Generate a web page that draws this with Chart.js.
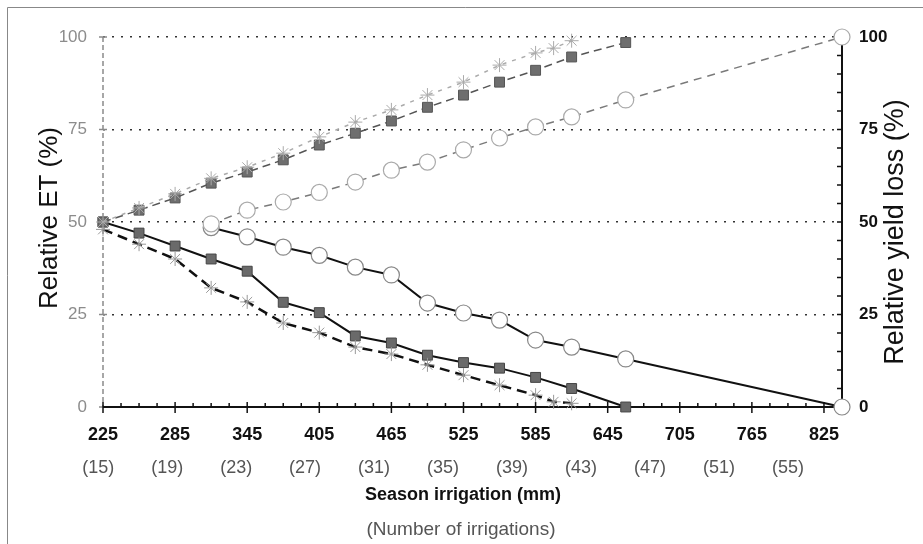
<!DOCTYPE html>
<html>
<head>
<meta charset="utf-8">
<script src="https://cdn.jsdelivr.net/npm/chart.js@4.4.1/dist/chart.umd.min.js"></script>
<style>
  html, body { margin: 0; padding: 0; background: #fff; }
  #wrap { width: 923px; height: 544px; }
</style>
</head>
<body>
<div id="wrap"><canvas id="chart" width="923" height="544"></canvas></div>
<script>
// x axis: season irrigation (mm)
const xTicks = [225, 285, 345, 405, 465, 525, 585, 645, 705, 765, 825];
const yTicks = [0, 25, 50, 75, 100];
const irrigationCounts = ['(15)', '(19)', '(23)', '(27)', '(31)', '(35)', '(39)', '(43)', '(47)', '(51)', '(55)'];

// square series
const squareMm = [225, 255, 285, 315, 345, 375, 405, 435, 465, 495, 525, 555, 585, 615, 660];
const etSquare = [50, 53.2, 56.5, 60.5, 63.5, 66.8, 70.8, 74, 77.3, 81, 84.3, 87.8, 91, 94.6, 98.5];
const lossSquare = [50, 47, 43.5, 40, 36.7, 28.3, 25.5, 19.2, 17.3, 14, 12, 10.5, 8, 5, 0];

// asterisk series
const starMm = [225, 255, 285, 315, 345, 375, 405, 435, 465, 495, 525, 555, 585, 600, 615];
const etStar = [50, 53.8, 57.6, 61.8, 64.8, 68.6, 73, 77, 80.3, 84.3, 87.8, 92.4, 95.7, 97, 99];
const lossStar = [48, 44, 40, 32.2, 28.4, 22.7, 20.1, 16.2, 14.3, 11.4, 8.6, 5.9, 3.2, 1.4, 1];

// circle series
const circleMm = [315, 345, 375, 405, 435, 465, 495, 525, 555, 585, 615, 660, 840];
const etCircle = [49.5, 53.2, 55.4, 58, 60.8, 64, 66.2, 69.5, 72.7, 75.7, 78.4, 83, 100];
const lossCircle = [48.5, 46, 43.2, 41, 37.8, 35.7, 28.1, 25.4, 23.5, 18.1, 16.2, 13, 0];

const FONT = 'Liberation Sans, Arial, sans-serif';

function pts(xs, ys) {
    return xs.map((x, i) => ({ x: x, y: ys[i] }));
}

const axesPlugin = {
    id: 'axesPlugin',
    beforeDatasetsDraw(chart) {
        const ctx = chart.ctx;
        const { left, right, top, bottom } = chart.chartArea;
        const xs = chart.scales.x;
        const ys = chart.scales.y;
        ctx.save();

        // frame
        ctx.strokeStyle = '#888';
        ctx.lineWidth = 1;
        ctx.beginPath();
        ctx.moveTo(7.5, 544);
        ctx.lineTo(7.5, 7.5);
        ctx.lineTo(923, 7.5);
        ctx.stroke();

        // left axis, dashed gray
        ctx.strokeStyle = '#8a8a8a';
        ctx.lineWidth = 1.5;
        ctx.setLineDash([5, 3]);
        ctx.beginPath();
        ctx.moveTo(left, top);
        ctx.lineTo(left, bottom);
        ctx.stroke();
        ctx.setLineDash([]);
        yTicks.forEach(v => {
            const y = ys.getPixelForValue(v);
            ctx.beginPath();
            ctx.moveTo(left - 4, y);
            ctx.lineTo(left + 4, y);
            ctx.stroke();
        });

        // right axis
        ctx.strokeStyle = '#111';
        ctx.lineWidth = 2;
        ctx.beginPath();
        ctx.moveTo(right, top + 8);
        ctx.lineTo(right, bottom);
        ctx.stroke();
        ctx.lineWidth = 1.5;
        for (let v = 5; v < 100; v += 5) {
            const y = ys.getPixelForValue(v);
            ctx.beginPath();
            ctx.moveTo(right - 5, y);
            ctx.lineTo(right + 1, y);
            ctx.stroke();
        }

        // x axis
        ctx.lineWidth = 2;
        ctx.beginPath();
        ctx.moveTo(left, bottom);
        ctx.lineTo(right, bottom);
        ctx.stroke();
        ctx.lineWidth = 1.5;
        for (let v = 225; v <= 840; v += 15) {
            const x = xs.getPixelForValue(v);
            const major = xTicks.includes(v);
            ctx.beginPath();
            ctx.moveTo(x, bottom - (major ? 5 : 4));
            ctx.lineTo(x, bottom + (major ? 6 : 0));
            ctx.stroke();
        }
        ctx.restore();
    },
    afterDraw(chart) {
        const ctx = chart.ctx;
        const xs = chart.scales.x;
        ctx.save();

        // number of irrigations row
        ctx.fillStyle = '#555';
        ctx.font = '18px ' + FONT;
        ctx.textAlign = 'center';
        ctx.textBaseline = 'middle';
        irrigationCounts.forEach((lab, i) => {
            ctx.fillText(lab, xs.getPixelForValue(221 + i * 57.4), 468);
        });

        ctx.fillStyle = '#111';
        ctx.font = 'bold 18px ' + FONT;
        ctx.fillText('Season irrigation (mm)', 463, 495);
        ctx.fillStyle = '#555';
        ctx.font = '19px ' + FONT;
        ctx.fillText('(Number of irrigations)', 461, 530);

        // axis titles
        ctx.fillStyle = '#111';
        ctx.textBaseline = 'alphabetic';
        ctx.font = '26px ' + FONT;
        ctx.save();
        ctx.translate(57, 218);
        ctx.rotate(-Math.PI / 2);
        ctx.fillText('Relative ET (%)', 0, 0);
        ctx.restore();

        ctx.font = '27px ' + FONT;
        ctx.save();
        ctx.translate(903, 232);
        ctx.rotate(-Math.PI / 2);
        ctx.fillText('Relative yield loss (%)', 0, 0);
        ctx.restore();

        ctx.restore();
    }
};

new Chart(document.getElementById('chart'), {
    type: 'line',
    data: {
        datasets: [
            {
                label: 'ET circles',
                data: pts(circleMm, etCircle),
                borderColor: '#7a7a7a',
                borderWidth: 1.5,
                borderDash: [8, 6],
                pointStyle: 'circle',
                pointRadius: 8,
                pointBackgroundColor: '#fff',
                pointBorderColor: '#aaa',
                pointBorderWidth: 1.2,
            },
            {
                label: 'ET asterisks',
                data: pts(starMm, etStar),
                borderColor: '#aaa',
                borderWidth: 1.5,
                borderDash: [4, 6],
                pointStyle: 'star',
                pointRadius: 7,
                pointBorderColor: '#aaa',
                pointBorderWidth: 1,
            },
            {
                label: 'ET squares',
                data: pts(squareMm, etSquare),
                borderColor: '#555',
                borderWidth: 1.5,
                borderDash: [8, 5],
                pointStyle: 'rect',
                pointRadius: 7,
                pointBackgroundColor: '#6e6e6e',
                pointBorderColor: '#555',
                pointBorderWidth: 1,
            },
            {
                label: 'Loss asterisks',
                data: pts(starMm, lossStar),
                borderColor: '#111',
                borderWidth: 2.5,
                borderDash: [10, 6],
                pointStyle: 'star',
                pointRadius: 7,
                pointBorderColor: '#999',
                pointBorderWidth: 1,
            },
            {
                label: 'Loss squares',
                data: pts(squareMm, lossSquare),
                borderColor: '#111',
                borderWidth: 2,
                pointStyle: 'rect',
                pointRadius: 7,
                pointBackgroundColor: '#6a6a6a',
                pointBorderColor: '#444',
                pointBorderWidth: 1,
            },
            {
                label: 'Loss circles',
                data: pts(circleMm, lossCircle),
                borderColor: '#111',
                borderWidth: 2,
                pointStyle: 'circle',
                pointRadius: 8,
                pointBackgroundColor: '#fff',
                pointBorderColor: '#888',
                pointBorderWidth: 1.2,
            },
        ].map(d => Object.assign({ fill: false, tension: 0, clip: false, pointHoverRadius: d.pointRadius }, d))
    },
    options: {
        responsive: false,
        animation: false,
        devicePixelRatio: 1,
        layout: { padding: { top: 37, left: 0, right: 0, bottom: 0 } },
        plugins: {
            legend: { display: false },
            tooltip: { enabled: false },
        },
        scales: {
            x: {
                type: 'linear',
                min: 225,
                max: 840,
                afterBuildTicks: s => { s.ticks = xTicks.map(v => ({ value: v })); },
                afterFit: s => { s.height = 137; },
                grid: { display: false, drawTicks: false },
                border: { display: false },
                ticks: {
                    color: '#111',
                    padding: 17,
                    maxRotation: 0,
                    autoSkip: false,
                    font: { family: FONT, size: 18, weight: 'bold' },
                },
            },
            y: {
                position: 'left',
                min: 0,
                max: 100,
                afterBuildTicks: s => { s.ticks = yTicks.map(v => ({ value: v })); },
                afterFit: s => { s.width = 103; },
                grid: {
                    drawTicks: false,
                    lineWidth: 1.5,
                    color: c => (c.tick && c.tick.value === 0) ? 'rgba(0,0,0,0)' : '#333',
                },
                border: { display: false, dash: [2, 7] },
                ticks: {
                    color: '#8c8c8c',
                    padding: 16,
                    font: { family: FONT, size: 17 },
                },
            },
            y2: {
                position: 'right',
                min: 0,
                max: 100,
                afterBuildTicks: s => { s.ticks = yTicks.map(v => ({ value: v })); },
                afterFit: s => { s.width = 81; },
                grid: { display: false, drawTicks: false },
                border: { display: false },
                ticks: {
                    color: '#111',
                    padding: 17,
                    font: { family: FONT, size: 17, weight: 'bold' },
                },
            },
        },
    },
    plugins: [axesPlugin],
});
</script>
</body>
</html>
